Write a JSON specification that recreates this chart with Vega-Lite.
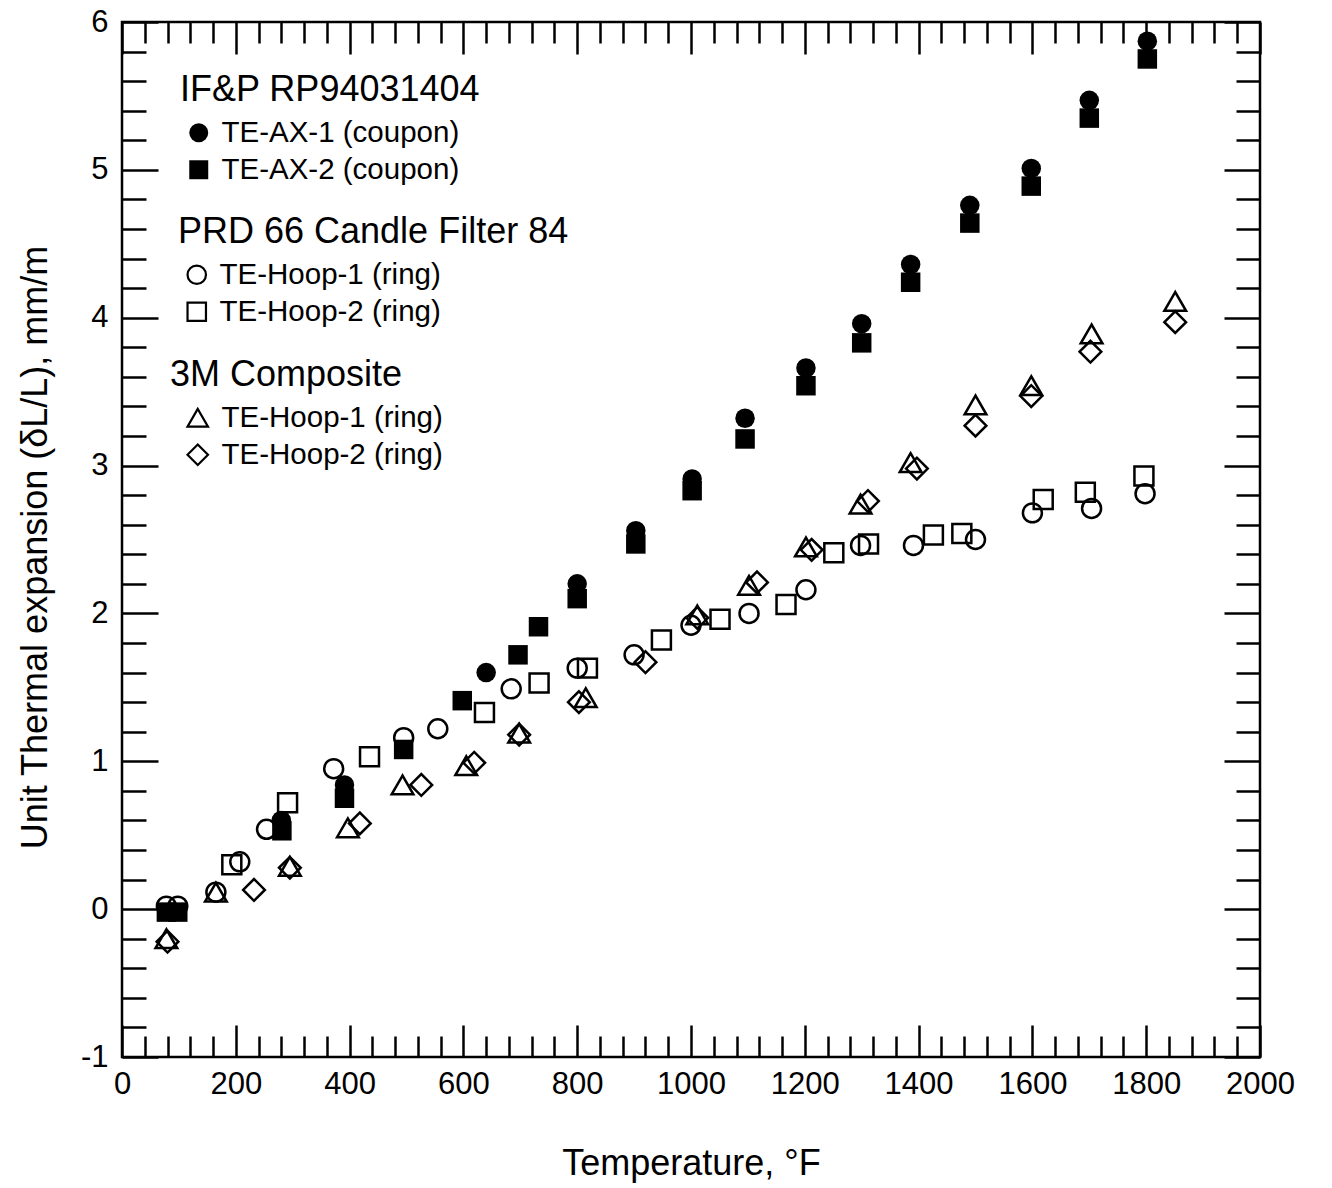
{
  "$schema": "https://vega.github.io/schema/vega-lite/v6.json",
  "autosize": {"type": "none"},
  "padding": {"left": 122, "top": 22, "right": 72, "bottom": 131},
  "width": 1138,
  "height": 1035,
  "background": "white",
  "data": {"values": [
    {"g":"IFP","s":"TE-AX-1 (coupon)","T":280,"e":0.60},
    {"g":"IFP","s":"TE-AX-1 (coupon)","T":391,"e":0.84},
    {"g":"IFP","s":"TE-AX-1 (coupon)","T":640,"e":1.60},
    {"g":"IFP","s":"TE-AX-1 (coupon)","T":800,"e":2.20},
    {"g":"IFP","s":"TE-AX-1 (coupon)","T":903,"e":2.56},
    {"g":"IFP","s":"TE-AX-1 (coupon)","T":1002,"e":2.91},
    {"g":"IFP","s":"TE-AX-1 (coupon)","T":1095,"e":3.32},
    {"g":"IFP","s":"TE-AX-1 (coupon)","T":1202,"e":3.66},
    {"g":"IFP","s":"TE-AX-1 (coupon)","T":1300,"e":3.96},
    {"g":"IFP","s":"TE-AX-1 (coupon)","T":1386,"e":4.36},
    {"g":"IFP","s":"TE-AX-1 (coupon)","T":1490,"e":4.76},
    {"g":"IFP","s":"TE-AX-1 (coupon)","T":1598,"e":5.01},
    {"g":"IFP","s":"TE-AX-1 (coupon)","T":1700,"e":5.47},
    {"g":"IFP","s":"TE-AX-1 (coupon)","T":1802,"e":5.87},
    {"g":"IFP","s":"TE-AX-2 (coupon)","T":78,"e":-0.02},
    {"g":"IFP","s":"TE-AX-2 (coupon)","T":98,"e":-0.02},
    {"g":"IFP","s":"TE-AX-2 (coupon)","T":281,"e":0.53},
    {"g":"IFP","s":"TE-AX-2 (coupon)","T":391,"e":0.75},
    {"g":"IFP","s":"TE-AX-2 (coupon)","T":495,"e":1.08},
    {"g":"IFP","s":"TE-AX-2 (coupon)","T":598,"e":1.41},
    {"g":"IFP","s":"TE-AX-2 (coupon)","T":696,"e":1.72},
    {"g":"IFP","s":"TE-AX-2 (coupon)","T":732,"e":1.91},
    {"g":"IFP","s":"TE-AX-2 (coupon)","T":800,"e":2.10},
    {"g":"IFP","s":"TE-AX-2 (coupon)","T":903,"e":2.47},
    {"g":"IFP","s":"TE-AX-2 (coupon)","T":1002,"e":2.83},
    {"g":"IFP","s":"TE-AX-2 (coupon)","T":1095,"e":3.18},
    {"g":"IFP","s":"TE-AX-2 (coupon)","T":1202,"e":3.54},
    {"g":"IFP","s":"TE-AX-2 (coupon)","T":1300,"e":3.83},
    {"g":"IFP","s":"TE-AX-2 (coupon)","T":1386,"e":4.24},
    {"g":"IFP","s":"TE-AX-2 (coupon)","T":1490,"e":4.64},
    {"g":"IFP","s":"TE-AX-2 (coupon)","T":1598,"e":4.89},
    {"g":"IFP","s":"TE-AX-2 (coupon)","T":1700,"e":5.35},
    {"g":"IFP","s":"TE-AX-2 (coupon)","T":1802,"e":5.75},
    {"g":"PRD","s":"TE-Hoop-1 (ring)","T":78,"e":0.02},
    {"g":"PRD","s":"TE-Hoop-1 (ring)","T":98,"e":0.02},
    {"g":"PRD","s":"TE-Hoop-1 (ring)","T":165,"e":0.115},
    {"g":"PRD","s":"TE-Hoop-1 (ring)","T":207,"e":0.32},
    {"g":"PRD","s":"TE-Hoop-1 (ring)","T":254,"e":0.54},
    {"g":"PRD","s":"TE-Hoop-1 (ring)","T":372,"e":0.95},
    {"g":"PRD","s":"TE-Hoop-1 (ring)","T":495,"e":1.16},
    {"g":"PRD","s":"TE-Hoop-1 (ring)","T":555,"e":1.22},
    {"g":"PRD","s":"TE-Hoop-1 (ring)","T":684,"e":1.49},
    {"g":"PRD","s":"TE-Hoop-1 (ring)","T":800,"e":1.63},
    {"g":"PRD","s":"TE-Hoop-1 (ring)","T":900,"e":1.72},
    {"g":"PRD","s":"TE-Hoop-1 (ring)","T":1000,"e":1.92},
    {"g":"PRD","s":"TE-Hoop-1 (ring)","T":1102,"e":2.00},
    {"g":"PRD","s":"TE-Hoop-1 (ring)","T":1202,"e":2.16},
    {"g":"PRD","s":"TE-Hoop-1 (ring)","T":1298,"e":2.46},
    {"g":"PRD","s":"TE-Hoop-1 (ring)","T":1391,"e":2.46},
    {"g":"PRD","s":"TE-Hoop-1 (ring)","T":1500,"e":2.50},
    {"g":"PRD","s":"TE-Hoop-1 (ring)","T":1600,"e":2.68},
    {"g":"PRD","s":"TE-Hoop-1 (ring)","T":1704,"e":2.71},
    {"g":"PRD","s":"TE-Hoop-1 (ring)","T":1798,"e":2.81},
    {"g":"PRD","s":"TE-Hoop-2 (ring)","T":193,"e":0.30},
    {"g":"PRD","s":"TE-Hoop-2 (ring)","T":291,"e":0.72},
    {"g":"PRD","s":"TE-Hoop-2 (ring)","T":435,"e":1.03},
    {"g":"PRD","s":"TE-Hoop-2 (ring)","T":637,"e":1.33},
    {"g":"PRD","s":"TE-Hoop-2 (ring)","T":733,"e":1.53},
    {"g":"PRD","s":"TE-Hoop-2 (ring)","T":818,"e":1.63},
    {"g":"PRD","s":"TE-Hoop-2 (ring)","T":948,"e":1.82},
    {"g":"PRD","s":"TE-Hoop-2 (ring)","T":1051,"e":1.96},
    {"g":"PRD","s":"TE-Hoop-2 (ring)","T":1167,"e":2.06},
    {"g":"PRD","s":"TE-Hoop-2 (ring)","T":1251,"e":2.41},
    {"g":"PRD","s":"TE-Hoop-2 (ring)","T":1312,"e":2.47},
    {"g":"PRD","s":"TE-Hoop-2 (ring)","T":1426,"e":2.53},
    {"g":"PRD","s":"TE-Hoop-2 (ring)","T":1476,"e":2.54},
    {"g":"PRD","s":"TE-Hoop-2 (ring)","T":1619,"e":2.77},
    {"g":"PRD","s":"TE-Hoop-2 (ring)","T":1693,"e":2.82},
    {"g":"PRD","s":"TE-Hoop-2 (ring)","T":1796,"e":2.93},
    {"g":"3M","s":"TE-Hoop-1 (ring)","T":78,"e":-0.20},
    {"g":"3M","s":"TE-Hoop-1 (ring)","T":165,"e":0.115},
    {"g":"3M","s":"TE-Hoop-1 (ring)","T":295,"e":0.29},
    {"g":"3M","s":"TE-Hoop-1 (ring)","T":397,"e":0.55},
    {"g":"3M","s":"TE-Hoop-1 (ring)","T":493,"e":0.84},
    {"g":"3M","s":"TE-Hoop-1 (ring)","T":605,"e":0.97},
    {"g":"3M","s":"TE-Hoop-1 (ring)","T":698,"e":1.19},
    {"g":"3M","s":"TE-Hoop-1 (ring)","T":815,"e":1.43},
    {"g":"3M","s":"TE-Hoop-1 (ring)","T":1011,"e":1.99},
    {"g":"3M","s":"TE-Hoop-1 (ring)","T":1102,"e":2.19},
    {"g":"3M","s":"TE-Hoop-1 (ring)","T":1202,"e":2.45},
    {"g":"3M","s":"TE-Hoop-1 (ring)","T":1298,"e":2.74},
    {"g":"3M","s":"TE-Hoop-1 (ring)","T":1386,"e":3.02},
    {"g":"3M","s":"TE-Hoop-1 (ring)","T":1500,"e":3.41},
    {"g":"3M","s":"TE-Hoop-1 (ring)","T":1598,"e":3.54},
    {"g":"3M","s":"TE-Hoop-1 (ring)","T":1704,"e":3.89},
    {"g":"3M","s":"TE-Hoop-1 (ring)","T":1851,"e":4.11},
    {"g":"3M","s":"TE-Hoop-2 (ring)","T":80,"e":-0.22},
    {"g":"3M","s":"TE-Hoop-2 (ring)","T":232,"e":0.13},
    {"g":"3M","s":"TE-Hoop-2 (ring)","T":295,"e":0.28},
    {"g":"3M","s":"TE-Hoop-2 (ring)","T":418,"e":0.58},
    {"g":"3M","s":"TE-Hoop-2 (ring)","T":526,"e":0.84},
    {"g":"3M","s":"TE-Hoop-2 (ring)","T":619,"e":0.99},
    {"g":"3M","s":"TE-Hoop-2 (ring)","T":698,"e":1.18},
    {"g":"3M","s":"TE-Hoop-2 (ring)","T":803,"e":1.40},
    {"g":"3M","s":"TE-Hoop-2 (ring)","T":920,"e":1.67},
    {"g":"3M","s":"TE-Hoop-2 (ring)","T":1011,"e":1.97},
    {"g":"3M","s":"TE-Hoop-2 (ring)","T":1116,"e":2.21},
    {"g":"3M","s":"TE-Hoop-2 (ring)","T":1212,"e":2.43},
    {"g":"3M","s":"TE-Hoop-2 (ring)","T":1311,"e":2.76},
    {"g":"3M","s":"TE-Hoop-2 (ring)","T":1397,"e":2.98},
    {"g":"3M","s":"TE-Hoop-2 (ring)","T":1500,"e":3.27},
    {"g":"3M","s":"TE-Hoop-2 (ring)","T":1598,"e":3.47},
    {"g":"3M","s":"TE-Hoop-2 (ring)","T":1702,"e":3.77},
    {"g":"3M","s":"TE-Hoop-2 (ring)","T":1851,"e":3.97}
  ]},
  "layer": [
    {
      "transform": [{"filter": "datum.g === 'PRD'"}],
      "mark": {"type": "point", "filled": false, "color": "black", "strokeWidth": 2.5, "size": 360, "opacity": 1},
      "encoding": {
        "x": {"field": "T", "type": "quantitative",
          "scale": {"domain": [0, 2000], "nice": false, "zero": false},
          "axis": {"orient": "bottom", "title": "Temperature, °F",
            "values": [0,40,80,120,160,200,240,280,320,360,400,440,480,520,560,600,640,680,720,760,800,840,880,920,960,1000,1040,1080,1120,1160,1200,1240,1280,1320,1360,1400,1440,1480,1520,1560,1600,1640,1680,1720,1760,1800,1840,1880,1920,1960,2000],
            "labelExpr": "datum.value % 200 === 0 ? toString(datum.value) : ''",
            "tickSize": {"condition": {"test": "datum.value % 200 === 0", "value": -32}, "value": -21},
            "labelPadding": 44,
            "titleX": 569, "titleY": 106, "titleAlign": "center", "titleBaseline": "middle"
          }},
        "y": {"field": "e", "type": "quantitative",
          "scale": {"domain": [-1, 6], "nice": false, "zero": false},
          "axis": {"orient": "left", "title": "Unit Thermal expansion (δL/L), mm/m",
            "values": [-1,-0.8,-0.6,-0.4,-0.2,0,0.2,0.4,0.6,0.8,1,1.2,1.4,1.6,1.8,2,2.2,2.4,2.6,2.8,3,3.2,3.4,3.6,3.8,4,4.2,4.4,4.6,4.8,5,5.2,5.4,5.6,5.8,6],
            "labelExpr": "abs(datum.value - round(datum.value)) < 0.01 ? toString(round(datum.value)) : ''",
            "tickSize": {"condition": {"test": "abs(datum.value - round(datum.value)) < 0.01", "value": -36}, "value": -24},
            "labelPadding": 50,
            "titleX": -87, "titleY": 525, "titleAlign": "center", "titleBaseline": "middle", "titleAngle": -90
          }},
        "shape": {"field": "s", "type": "nominal",
          "scale": {"domain": ["TE-Hoop-1 (ring)", "TE-Hoop-2 (ring)"], "range": ["circle", "square"]},
          "legend": {"title": "PRD 66 Candle Filter 84", "orient": "none", "legendX": 56, "legendY": 193,
            "symbolSize": 340, "symbolOffset": 4, "labelOffset": 8, "symbolStrokeColor": "black", "symbolFillColor": "transparent", "symbolStrokeWidth": 2.2}}
      }
    },
    {
      "transform": [{"filter": "datum.g === '3M'"}],
      "mark": {"type": "point", "filled": false, "color": "black", "strokeWidth": 2.5, "size": 470, "opacity": 1},
      "encoding": {
        "x": {"field": "T", "type": "quantitative", "axis": null},
        "y": {"field": "e", "type": "quantitative", "axis": null},
        "shape": {"field": "s", "type": "nominal",
          "scale": {"domain": ["TE-Hoop-1 (ring)", "TE-Hoop-2 (ring)"], "range": ["triangle-up", "diamond"]},
          "legend": {"title": "3M Composite", "orient": "none", "legendX": 48, "legendY": 336,
            "symbolSize": 420, "symbolOffset": 13, "labelOffset": 9, "symbolStrokeColor": "black", "symbolFillColor": "transparent", "symbolStrokeWidth": 2.2}}
      }
    },
    {
      "transform": [{"filter": "datum.g === 'IFP'"}],
      "mark": {"type": "point", "filled": true, "color": "black", "size": 380, "opacity": 1},
      "encoding": {
        "x": {"field": "T", "type": "quantitative", "axis": null},
        "y": {"field": "e", "type": "quantitative", "axis": null},
        "shape": {"field": "s", "type": "nominal",
          "scale": {"domain": ["TE-AX-1 (coupon)", "TE-AX-2 (coupon)"], "range": ["circle", "square"]},
          "legend": {"title": "IF&P RP94031404", "orient": "none", "legendX": 58, "legendY": 51,
            "symbolSize": 360, "symbolOffset": 4, "labelOffset": 8, "symbolFillColor": "black", "symbolStrokeColor": "black"}}
      }
    },
    {
      "mark": {"type": "point", "opacity": 0},
      "encoding": {
        "x": {"field": "T", "type": "quantitative",
          "axis": {"orient": "top", "title": null, "labels": false,
            "tickSize": {"condition": {"test": "datum.value % 200 === 0", "value": -32}, "value": -21},
            "values": [0,40,80,120,160,200,240,280,320,360,400,440,480,520,560,600,640,680,720,760,800,840,880,920,960,1000,1040,1080,1120,1160,1200,1240,1280,1320,1360,1400,1440,1480,1520,1560,1600,1640,1680,1720,1760,1800,1840,1880,1920,1960,2000]}},
        "y": {"field": "e", "type": "quantitative",
          "axis": {"orient": "right", "title": null, "labels": false,
            "tickSize": {"condition": {"test": "abs(datum.value - round(datum.value)) < 0.01", "value": -36}, "value": -24},
            "values": [-1,-0.8,-0.6,-0.4,-0.2,0,0.2,0.4,0.6,0.8,1,1.2,1.4,1.6,1.8,2,2.2,2.4,2.6,2.8,3,3.2,3.4,3.6,3.8,4,4.2,4.4,4.6,4.8,5,5.2,5.4,5.6,5.8,6]}}
      }
    }
  ],
  "resolve": {"scale": {"shape": "independent"}, "axis": {"x": "independent", "y": "independent"}},
  "config": {
    "view": {"stroke": "black", "strokeWidth": 2.5},
    "axis": {"domain": false, "grid": false, "ticks": true, "tickColor": "black", "tickWidth": 2.5, "tickOpacity": 1,
      "labelColor": "black", "labelFont": "Liberation Sans", "labelFontSize": 31,
      "titleColor": "black", "titleFont": "Liberation Sans", "titleFontSize": 36, "titleFontWeight": "normal",
      "labelOverlap": false, "labelFlush": false, "labelBound": false},
    "legend": {"titleFont": "Liberation Sans", "titleFontSize": 36, "titleFontWeight": "normal", "titleColor": "black",
      "labelFont": "Liberation Sans", "labelFontSize": 29.5, "labelColor": "black",
      "titleLimit": 1000, "labelLimit": 1000, "padding": 0, "rowPadding": 6, "titlePadding": 9, "direction": "vertical"}
  }
}
